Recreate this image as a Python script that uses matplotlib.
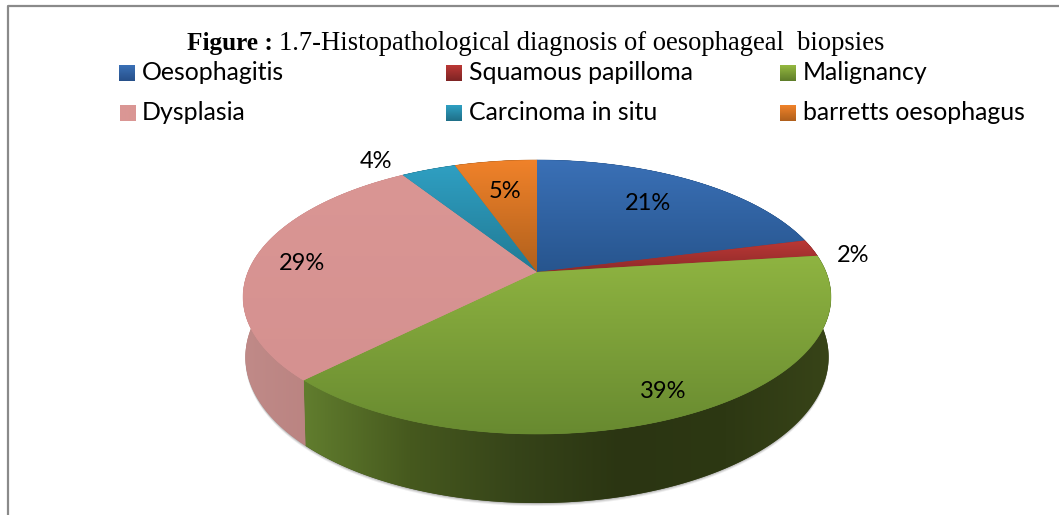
import numpy as np
import matplotlib
matplotlib.use("Agg")
import matplotlib.pyplot as plt
from matplotlib.colors import LinearSegmentedColormap
from matplotlib.patches import Polygon


CATEGORIES = ["Oesophagitis", "Squamous papilloma", "Malignancy",
              "Dysplasia", "Carcinoma in situ", "barretts oesophagus"]
SHARES = [21, 2, 39.4, 28.6, 3.6, 5.4]
TOP_COLOURS = [("#3a70b6", "#27558e"), ("#bb3835", "#8e2a2a"), ("#8fb441", "#688a30"),
               ("#da9694", "#d59190"), ("#2f9fc2", "#217a94"), ("#f0822a", "#b0601c")]
LEGEND_COLOURS = [("#3a70b6", "#27508a"), ("#bb3835", "#7e2424"), ("#94b840", "#5f7d2a"),
                  ("#da9694", "#da9694"), ("#2f9fc2", "#1f7088"), ("#f0822a", "#b0601c")]
SIDE_COLOURS = [["#27558e", "#1d3f6a"], ["#8e2a2a", "#6a2020"],
                ["#617d2e", "#46591e", "#364419", "#2b3512", "#2d3813", "#384418"],
                ["#c08a88", "#b27b78"], ["#217a94", "#185a6e"], ["#b0601c", "#854815"]]

# pie geometry in image pixels
APEX_X, APEX_Y = 537, 272
FAR, NEAR = 112, 162
WIDE = 289
CENTRE_Y = 297
WALL_SHIFT = 60
WALL_SCALE_X, WALL_SCALE_Y = 0.992, 1.066


def rim_point(theta):
    # perspective view of a circle, theta clockwise from the top
    k = (NEAR - FAR) / (NEAR + FAR)
    a = FAR * (1 + k)
    x, y = np.sin(theta), np.cos(theta)
    d = 1 + k * y
    return APEX_X + WIDE * x / d, APEX_Y - a * y / d


def wall_point(px, py):
    return (APEX_X + (px - APEX_X) * WALL_SCALE_X,
            CENTRE_Y + WALL_SHIFT + (py - CENTRE_Y) * WALL_SCALE_Y)


def gradient_fill(ax, patch, colours, horizontal=False):
    ax.add_patch(patch)
    cmap = LinearSegmentedColormap.from_list("g", colours)
    grad = np.linspace(0, 1, 256)
    grad = grad.reshape(1, -1) if horizontal else grad.reshape(-1, 1)
    xy = patch.get_xy()
    extent = [xy[:, 0].min(), xy[:, 0].max(), xy[:, 1].max(), xy[:, 1].min()]
    im = ax.imshow(grad, cmap=cmap, extent=extent, aspect="auto", origin="upper",
                   interpolation="bilinear", zorder=patch.get_zorder())
    im.set_clip_path(patch)
    return im


def main() -> None:
    plt.rcParams["font.family"] = ["Lato", "DejaVu Sans"]
    fig = plt.figure(figsize=(10.59, 5.15), dpi=100)
    ax = fig.add_axes([0, 0, 1, 1])
    ax.axis("off")

    # outer frame
    ax.plot([7.5, 7.5, 1059], [515, 5.5, 5.5], color="#8a8a8a", lw=1.6, zorder=1)

    edges = 2 * np.pi * np.cumsum([0] + SHARES) / sum(SHARES)

    # soft shadow under the side wall
    t = np.linspace(np.pi / 2 - 0.1, 3 * np.pi / 2 + 0.1, 300)
    rx, ry = rim_point(t)
    wx, wy = wall_point(rx, ry)
    for grow, alpha in [(3.0, 0.12), (2.0, 0.18), (1.0, 0.25)]:
        ax.add_patch(Polygon(np.column_stack([wx, wy + grow]), closed=True, fc="#707070",
                             ec="none", alpha=alpha, zorder=2))

    # side walls
    for i in range(len(SHARES)):
        t = np.linspace(edges[i], edges[i + 1], 200)
        rx, ry = rim_point(t)
        wx, wy = wall_point(rx, ry)
        pts = np.column_stack([np.r_[rx, wx[::-1]], np.r_[ry, wy[::-1]]])
        ax.add_patch(Polygon(pts, closed=True, fc=SIDE_COLOURS[i][-1], ec="none", zorder=3))
        patch = Polygon(pts, closed=True, fc="none", ec="none", zorder=4)
        gradient_fill(ax, patch, SIDE_COLOURS[i], horizontal=True)

    # top faces
    for i in range(len(SHARES)):
        t = np.linspace(edges[i], edges[i + 1], 200)
        rx, ry = rim_point(t)
        pts = np.column_stack([np.r_[APEX_X, rx], np.r_[APEX_Y, ry]])
        ax.add_patch(Polygon(pts, closed=True, fc=TOP_COLOURS[i][1], ec=TOP_COLOURS[i][1],
                             lw=0.4, zorder=5))
        patch = Polygon(pts, closed=True, fc="none", ec="none", zorder=6)
        gradient_fill(ax, patch, TOP_COLOURS[i])

    # data labels
    label_pos = [(648, 204), (853, 256), (663, 392), (302, 264), (376, 162), (505, 192)]
    for share, (x, y) in zip(SHARES, label_pos):
        ax.text(x, y, f"{share:.0f}%", fontsize=17, ha="center", va="center",
                color="black", zorder=8)

    # legend
    legend_x = [119, 446, 780, 120, 446, 780]
    legend_y = [65, 65, 65, 105, 105, 105]
    for i, name in enumerate(CATEGORIES):
        x, y = legend_x[i], legend_y[i]
        cmap = LinearSegmentedColormap.from_list("l", LEGEND_COLOURS[i])
        ax.imshow(np.linspace(0, 1, 32).reshape(-1, 1), cmap=cmap,
                  extent=[x, x + 16, y + 16, y], aspect="auto", zorder=6)
        ax.text(legend_x[i % 3] + 23, y + 15, name, fontsize=17.9, ha="left",
                va="baseline", color="black", zorder=8)

    # title, bold part then regular part
    ax.text(187, 50, "Figure :", family="Liberation Serif", fontweight="bold",
            fontsize=18.2, ha="left", va="baseline", color="black")
    ax.text(279, 50, "1.7-Histopathological diagnosis of oesophageal  biopsies",
            family="Liberation Serif", fontsize=19.2, ha="left", va="baseline", color="black")

    ax.set_xlim(0, 1059)
    ax.set_ylim(515, 0)
    fig.savefig("out.png", dpi=100, facecolor="white")
    plt.close(fig)


if __name__ == "__main__":
    main()
